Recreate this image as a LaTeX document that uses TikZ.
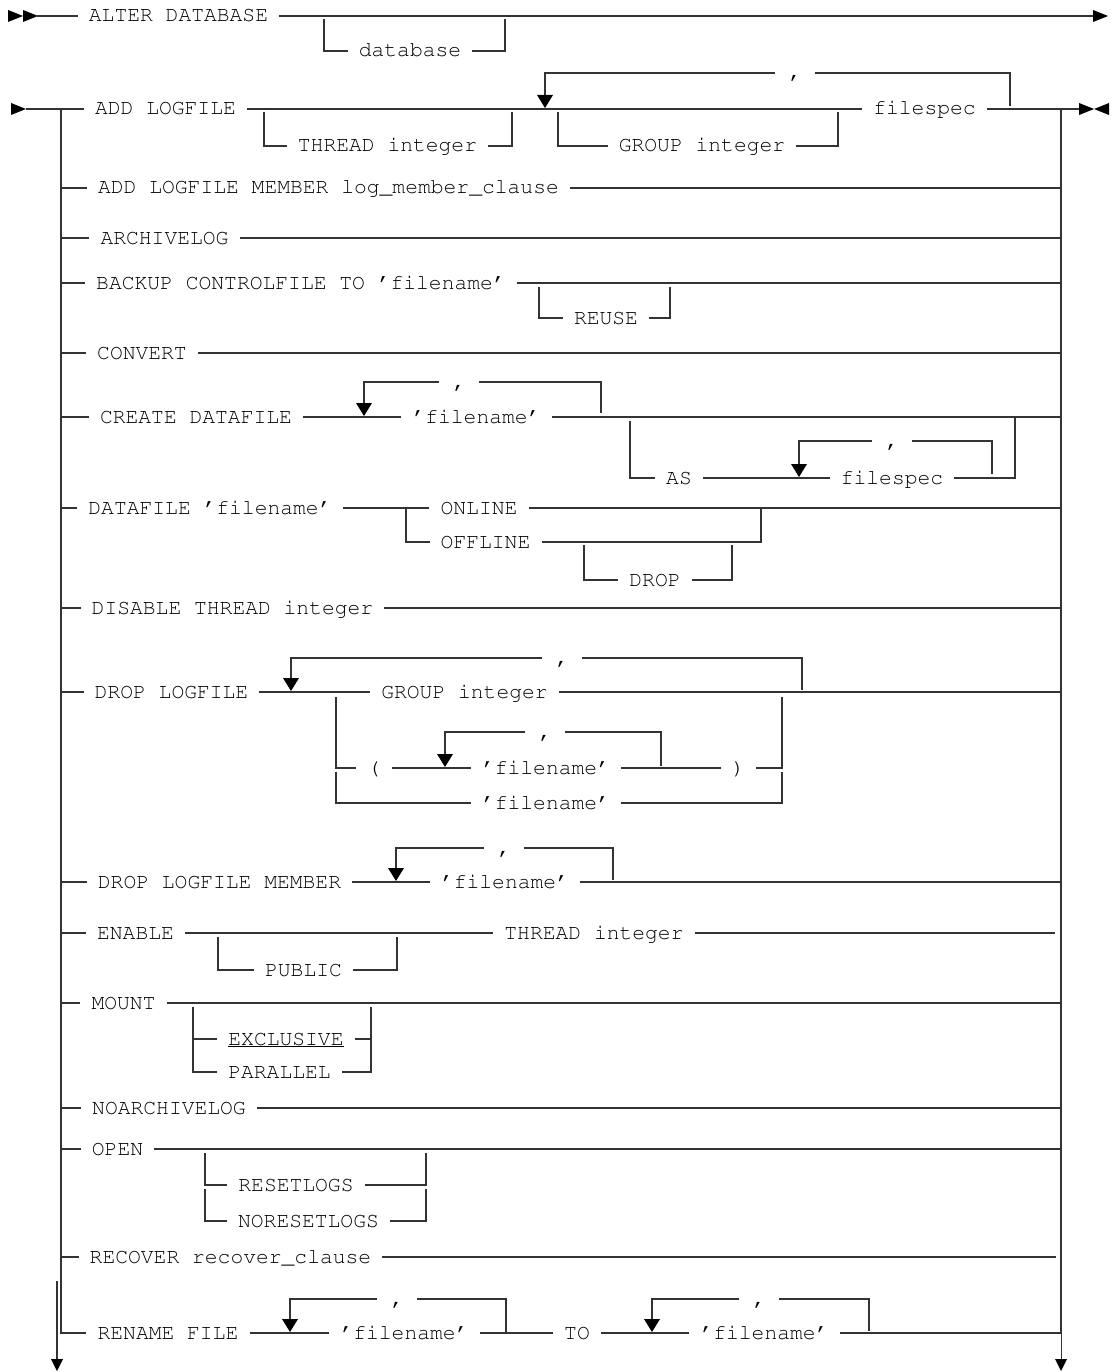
\documentclass[tikz,border=0pt]{standalone}
\usepackage[T1]{fontenc}
\usepackage{courier}
\usetikzlibrary{calc}
\tikzset{
  rl/.style={line width=1.1pt, draw=black!80},
  txt/.style={font=\ttfamily\fontsize{21.33}{24}\selectfont, inner xsep=11pt, inner ysep=0pt, text height=14pt, text depth=2pt},
  commanode/.style={font=\ttfamily\fontsize{21.33}{24}\selectfont, inner xsep=13pt, inner ysep=0pt, text height=14pt, text depth=2pt},
}
\newcommand\darr[1]{\fill[black] (#1) ++(-8,-14) -- ++(16,0) -- ++(-8,13) -- cycle;}
\newcommand\bdarr[1]{\fill[black] (#1) ++(-6,-12) -- ++(12,0) -- ++(-6,12) -- cycle;}
\newcommand\rarr[1]{\fill[black] (#1) ++(0,-6) -- ++(15,6) -- ++(-15,6) -- cycle;}
\newcommand\larr[1]{\fill[black] (#1) ++(0,-6) -- ++(-15,6) -- ++(15,6) -- cycle;}
\begin{document}
\begin{tikzpicture}[x=1pt,y=-1pt]
\fill[white] (0,0) rectangle (1117,1372);
\useasboundingbox (0,0) rectangle (1117,1372);
\coordinate (LR) at (61,0);
\coordinate (RR) at (1061,0);

% ---------- Row 0 ----------
\node[txt] (alter) at (178.5,16) {ALTER DATABASE};
\node[txt] (db) at (410,51) {database};
\rarr{8,16}
\rarr{23,16}
\coordinate (s0) at (37,16);
\coordinate (e0) at (1094,16);
\draw[rl] (s0) -- (alter.west);
\draw[rl] (alter.east) -- (e0);
\rarr{1093,16}
\draw[rl] (324,19) |- (db.west);
\draw[rl] (db.east) -| (505,19);

% ---------- Row 1 : ADD LOGFILE ----------
\node[txt] (addlog) at (165.5,109) {ADD LOGFILE};
\node[txt] (fs1) at (924.5,109) {filespec};
\node[txt] (thr) at (387.5,146) {THREAD integer};
\node[txt] (grp) at (702,146) {GROUP integer};
\node[commanode] (c1) at (795,73) {,};
\rarr{11,109}
\coordinate (s1) at (26,109);
\coordinate (e1) at (1079,109);
\draw[rl] (s1) -- (addlog.west);
\draw[rl] (addlog.east) -- (fs1.west);
\draw[rl] (fs1.east) -- (e1);
\rarr{1079,109}
\larr{1109,109}
\draw[rl] (264,112) |- (thr.west);
\draw[rl] (thr.east) -| (512,112);
\draw[rl] (558,112) |- (grp.west);
\draw[rl] (grp.east) -| (838,112);
\draw[rl] (545,96) |- (c1.west);
\draw[rl] (c1.east) -| (1010,106);
\darr{545,109}

% ---------- rails ----------
\node[txt] (rn) at (168,1333) {RENAME FILE};
\draw[rl] (61,109) |- (rn.west);
\draw[rl] (1061,109) -- (1061,1333);
\draw[rl] (1061.6,1280) -- (1061.6,1360);
\bdarr{1061,1371}
\draw[rl] (57,1281) -- (57,1360);
\bdarr{57,1371}

% ---------- simple rows ----------
\node[txt] (amem) at (328.5,188) {ADD LOGFILE MEMBER log\_member\_clause};
\draw[rl] (LR |- amem) -- (amem.west);
\draw[rl] (amem.east) -- (amem -| RR);

\node[txt] (arch) at (164.5,238) {ARCHIVELOG};
\draw[rl] (LR |- arch) -- (arch.west);
\draw[rl] (arch.east) -- (arch -| RR);

\node[txt] (bak) at (301,283) {BACKUP CONTROLFILE TO 'filename'};
\node[txt] (reuse) at (606,318) {REUSE};
\draw[rl] (LR |- bak) -- (bak.west);
\draw[rl] (bak.east) -- (bak -| RR);
\draw[rl] (539,287) |- (reuse.west);
\draw[rl] (reuse.east) -| (670,287);

\node[txt] (conv) at (142,353) {CONVERT};
\draw[rl] (LR |- conv) -- (conv.west);
\draw[rl] (conv.east) -- (conv -| RR);

% ---------- CREATE DATAFILE ----------
\node[txt] (cdf) at (196,417) {CREATE DATAFILE};
\node[txt] (fn1) at (476.5,417) {'filename'};
\node[commanode] (c2) at (459,382) {,};
\node[txt] (as) at (679,478) {AS};
\node[txt] (fs2) at (892,478) {filespec};
\node[commanode] (c3) at (892,441) {,};
\draw[rl] (LR |- cdf) -- (cdf.west);
\draw[rl] (cdf.east) -- (fn1.west);
\draw[rl] (fn1.east) -- (fn1 -| RR);
\draw[rl] (364,404) |- (c2.west);
\draw[rl] (c2.east) -| (601,413);
\darr{364,417}
\draw[rl] (630,421) |- (as.west);
\draw[rl] (as.east) -- (fs2.west);
\draw[rl] (fs2.east) -| (1015,417);
\draw[rl] (799,465) |- (c3.west);
\draw[rl] (c3.east) -| (992,474);
\darr{799,478}

% ---------- DATAFILE ----------
\node[txt] (df) at (210,508) {DATAFILE 'filename'};
\node[txt] (on) at (479,508) {ONLINE};
\node[txt] (off) at (485.5,542) {OFFLINE};
\node[txt] (drp) at (655,580) {DROP};
\draw[rl] (LR |- df) -- (df.west);
\draw[rl] (df.east) -- (on.west);
\draw[rl] (on.east) -- (on -| RR);
\draw[rl] (406,508) |- (off.west);
\draw[rl] (off.east) -| (761,508);
\draw[rl] (584,545) |- (drp.west);
\draw[rl] (drp.east) -| (732,545);

% ---------- DISABLE ----------
\node[txt] (dis) at (232.5,608) {DISABLE THREAD integer};
\draw[rl] (LR |- dis) -- (dis.west);
\draw[rl] (dis.east) -- (dis -| RR);

% ---------- DROP LOGFILE ----------
\node[txt] (dl) at (171.5,692) {DROP LOGFILE};
\node[txt] (gi) at (464.5,692) {GROUP integer};
\node[commanode] (c4) at (562,658) {,};
\node[txt] (lp) at (374,768) {(};
\node[txt] (fn3) at (546,768) {'filename'};
\node[txt] (rp) at (738.5,768) {)};
\node[txt] (fn4) at (546,803) {'filename'};
\node[commanode] (c5) at (545,732) {,};
\draw[rl] (LR |- dl) -- (dl.west);
\draw[rl] (dl.east) -- (gi.west);
\draw[rl] (gi.east) -- (gi -| RR);
\draw[rl] (291,679) |- (c4.west);
\draw[rl] (c4.east) -| (802,690);
\darr{291,692}
\draw[rl] (336,697) |- (lp.west);
\draw[rl] (336,772) |- (fn4.west);
\draw[rl] (lp.east) -- (fn3.west);
\draw[rl] (fn3.east) -- (rp.west);
\draw[rl] (rp.east) -| (782,697);
\draw[rl] (fn4.east) -| (782,772);
\draw[rl] (445,755) |- (c5.west);
\draw[rl] (c5.east) -| (661,766);
\darr{445,768}

% ---------- DROP LOGFILE MEMBER ----------
\node[txt] (dlm) at (219.5,882) {DROP LOGFILE MEMBER};
\node[txt] (fn5) at (505,882) {'filename'};
\node[commanode] (c6) at (504,848) {,};
\draw[rl] (LR |- dlm) -- (dlm.west);
\draw[rl] (dlm.east) -- (fn5.west);
\draw[rl] (fn5.east) -- (fn5 -| RR);
\draw[rl] (396,869) |- (c6.west);
\draw[rl] (c6.east) -| (613,880);
\darr{396,882}

% ---------- ENABLE ----------
\node[txt] (en) at (135.5,933) {ENABLE};
\node[txt] (ti) at (594,933) {THREAD integer};
\node[txt] (pub) at (303.5,970) {PUBLIC};
\coordinate (een) at (1055,933);
\draw[rl] (LR |- en) -- (en.west);
\draw[rl] (en.east) -- (ti.west);
\draw[rl] (ti.east) -- (een);
\draw[rl] (218,937) |- (pub.west);
\draw[rl] (pub.east) -| (397,937);

% ---------- MOUNT ----------
\node[txt] (mnt) at (123.5,1003) {MOUNT};
\node[txt] (excl) at (286,1039) {EXCLUSIVE};
\node[txt] (par) at (279.5,1072) {PARALLEL};
\draw[rl] (LR |- mnt) -- (mnt.west);
\draw[rl] (mnt.east) -- (mnt -| RR);
\draw[rl] (193,1007) |- (par.west);
\draw[rl] (193,1039) -- (excl.west);
\draw[rl] (excl.east) -- (371,1039);
\draw[rl] (371,1007) |- (par.east);
\draw[line width=1pt] ($(excl.south west)+(11,-1)$) -- ($(excl.south east)+(-11,-1)$);

% ---------- NOARCHIVELOG ----------
\node[txt] (noarch) at (169,1108) {NOARCHIVELOG};
\draw[rl] (LR |- noarch) -- (noarch.west);
\draw[rl] (noarch.east) -- (noarch -| RR);

% ---------- OPEN ----------
\node[txt] (open) at (117.5,1149) {OPEN};
\node[txt] (rs) at (296,1185) {RESETLOGS};
\node[txt] (nrs) at (308.5,1221) {NORESETLOGS};
\draw[rl] (LR |- open) -- (open.west);
\draw[rl] (open.east) -- (open -| RR);
\draw[rl] (205,1153) |- (rs.west);
\draw[rl] (205,1189) |- (nrs.west);
\draw[rl] (rs.east) -| (426,1153);
\draw[rl] (nrs.east) -| (426,1189);

% ---------- RECOVER ----------
\node[txt] (rec) at (230.5,1257) {RECOVER recover\_clause};
\coordinate (erec) at (1056,1257);
\draw[rl] (LR |- rec) -- (rec.west);
\draw[rl] (rec.east) -- (erec);

% ---------- RENAME FILE ----------
\node[txt] (fn6) at (404.5,1333) {'filename'};
\node[txt] (to) at (577,1333) {TO};
\node[txt] (fn7) at (764.5,1333) {'filename'};
\node[commanode] (c7) at (397,1299) {,};
\node[commanode] (c8) at (759,1299) {,};
\draw[rl] (rn.east) -- (fn6.west);
\draw[rl] (fn6.east) -- (to.west);
\draw[rl] (to.east) -- (fn7.west);
\draw[rl] (fn7.east) -- (fn7 -| RR);
\draw[rl] (290,1320) |- (c7.west);
\draw[rl] (c7.east) -| (506,1333);
\darr{290,1333}
\draw[rl] (652,1320) |- (c8.west);
\draw[rl] (c8.east) -| (869,1331);
\darr{652,1333}
\end{tikzpicture}
\end{document}
